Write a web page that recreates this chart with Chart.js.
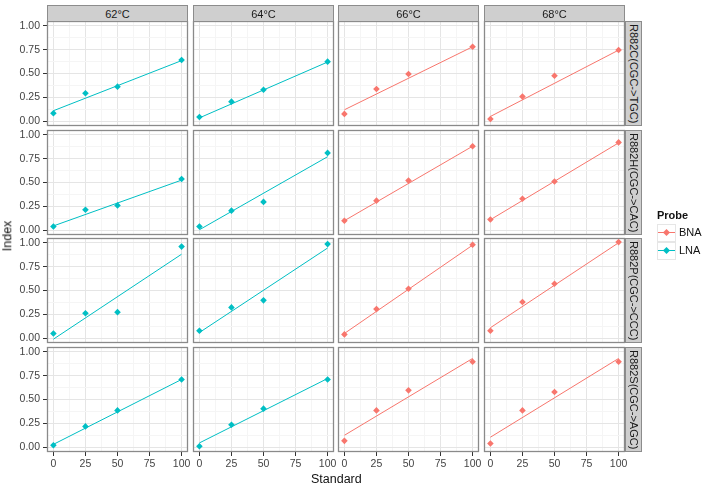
<!DOCTYPE html>
<html>
<head>
<meta charset="utf-8">
<script src="https://cdn.jsdelivr.net/npm/chart.js@4"></script>
<style>
  body { margin: 0; background: #fff; font-family: "Liberation Sans", Arial, sans-serif; }
  #wrap { position: relative; width: 706px; height: 489px; overflow: hidden; }
  canvas { position: absolute; }
  .strip { position: absolute; box-sizing: border-box; background: #cfcfcf; border: 1px solid #8c8c8c;
           font-size: 11px; color: #1a1a1a; display: flex; align-items: center; justify-content: center; }
  .strip.v { writing-mode: vertical-rl; }
  .title { position: absolute; font-size: 12.5px; color: #111; font-weight: normal; }
  #legend { position: absolute; left: 657px; top: 209px; font-size: 11px; color: #111; }
  #legend .head { font-weight: bold; margin-bottom: 3px; }
  #legend .key { position: relative; height: 18px; }
  #legend .box { position: absolute; left: 0; top: 0; width: 19px; height: 18px; box-sizing: border-box; border: 1px solid #e6e6e6; }
  #legend .ln { position: absolute; left: 1px; top: 8px; width: 17px; height: 1px; }
  #legend .pt { position: absolute; left: 7px; top: 6px; width: 5px; height: 5px; transform: rotate(45deg); }
  #legend .lab { position: absolute; left: 22px; top: 2px; }
</style>
</head>
<body>
<div id="wrap"></div>
<script>
const standards = [0, 25, 50, 100];
const temps = ['62°C', '64°C', '66°C', '68°C'];
const mutations = ['R882C(CGC->TGC)', 'R882H(CGC->CAC)', 'R882P(CGC->CCC)', 'R882S(CGC->AGC)'];
const probeByTemp = ['LNA', 'LNA', 'BNA', 'BNA'];
const xTickLabels = ['0', '25', '50', '75', '100'];
const yTickLabels = ['0.00', '0.25', '0.50', '0.75', '1.00'];

// index values at each standard, one row per temperature
const r882c = [[0.084, 0.293, 0.362, 0.641], [0.045, 0.205, 0.33, 0.624], [0.077, 0.338, 0.495, 0.78], [0.024, 0.258, 0.477, 0.746]];
const r882h = [[0.039, 0.215, 0.26, 0.537], [0.039, 0.205, 0.297, 0.81], [0.10, 0.31, 0.52, 0.88], [0.113, 0.33, 0.51, 0.92]];
const r882p = [[0.05, 0.262, 0.273, 0.96], [0.078, 0.323, 0.397, 0.986], [0.04, 0.305, 0.518, 0.979], [0.078, 0.379, 0.57, 1.007]];
const r882s = [[0.021, 0.218, 0.386, 0.709], [0.011, 0.235, 0.404, 0.709], [0.067, 0.386, 0.596, 0.895], [0.039, 0.386, 0.579, 0.895]];

// fitted line at standard 0 and 100
const fitC = [[0.11, 0.635], [0.035, 0.62], [0.12, 0.78], [0.05, 0.745]];
const fitH = [[0.045, 0.525], [0.005, 0.77], [0.10, 0.88], [0.11, 0.915]];
const fitP = [[-0.01, 0.88], [0.06, 0.945], [0.05, 0.975], [0.11, 1.0]];
const fitS = [[0.03, 0.71], [0.045, 0.72], [0.125, 0.93], [0.105, 0.93]];

const values = [r882c, r882h, r882p, r882s];
const fits = [fitC, fitH, fitP, fitS];
const probeColors = { BNA: '#F8766D', LNA: '#00BFC4' };

const wrap = document.getElementById('wrap');
const PW = 141, PH = 105, LEFT_AX = 47, BOTTOM_AX = 22, M = 12;
const colLeft = i => Math.round(47 + i * 145.5);
const rowTop = j => Math.round(21 + j * 108.7);

const panelFrame = {
  id: 'panelFrame',
  beforeDraw(chart) {
    const a = chart.chartArea, c = chart.ctx;
    c.save(); c.fillStyle = '#fff'; c.fillRect(a.left, a.top, a.right - a.left, a.bottom - a.top); c.restore();
  },
  afterDraw(chart) {
    const a = chart.chartArea, c = chart.ctx;
    c.save(); c.strokeStyle = '#8a8a8a'; c.lineWidth = 1.3;
    c.strokeRect(a.left + 0.5, a.top + 0.5, a.right - a.left - 1, a.bottom - a.top - 1); c.restore();
  }
};

const xMajor = xTickLabels.map(Number);
const yMajor = yTickLabels.map(Number);
const withMinor = (major) => {
  const out = [];
  major.forEach((v, k) => { out.push(v); if (k < major.length - 1) out.push((v + major[k + 1]) / 2); });
  return out;
};
const noPad = s => { s.paddingTop = 0; s.paddingBottom = 0; s.paddingLeft = 0; s.paddingRight = 0; };

for (let j = 0; j < 4; j++) {
  for (let i = 0; i < 4; i++) {
    const isLeft = i === 0, isBottom = j === 3;
    const padL = isLeft ? LEFT_AX : M, padB = isBottom ? BOTTOM_AX : M;
    const cv = document.createElement('canvas');
    cv.width = PW + padL + M; cv.height = PH + M + padB;
    cv.style.left = (colLeft(i) - padL) + 'px';
    cv.style.top = (rowTop(j) - M) + 'px';
    wrap.appendChild(cv);

    const color = probeColors[probeByTemp[i]];
    const pts = standards.map((s, k) => ({ x: s, y: values[j][i][k] }));
    const fit = [{ x: 0, y: fits[j][i][0] }, { x: 100, y: fits[j][i][1] }];

    new Chart(cv, {
      type: 'scatter',
      data: {
        datasets: [
          { data: fit, showLine: true, borderColor: color, borderWidth: 1, pointRadius: 0, order: 2 },
          { data: pts, backgroundColor: color, borderColor: color, pointStyle: 'rectRot', pointRadius: 3.3, borderWidth: 0, order: 1 }
        ]
      },
      options: {
        responsive: false, animation: false, events: [],
        layout: { padding: { left: isLeft ? 0 : M, right: M, top: M, bottom: isBottom ? 0 : M }, autoPadding: false },
        plugins: { legend: { display: false }, tooltip: { enabled: false } },
        scales: {
          x: {
            type: 'linear', min: -5, max: 105,
            afterBuildTicks: s => { s.ticks = withMinor(xMajor).map(v => ({ value: v })); },
            afterFit: s => { s.height = isBottom ? BOTTOM_AX : 0; noPad(s); },
            border: { display: false },
            grid: {
              color: c => (xMajor.includes(c.tick.value) ? '#e5e5e5' : '#f5f5f5'),
              drawTicks: isBottom, tickLength: 4,
              tickColor: c => (xMajor.includes(c.tick.value) ? '#333' : 'rgba(0,0,0,0)')
            },
            ticks: {
              display: isBottom, autoSkip: false, maxRotation: 0, padding: 2,
              color: '#444', font: { family: 'Liberation Sans', size: 10.5 },
              callback: v => { const k = xMajor.indexOf(v); return k >= 0 ? xTickLabels[k] : ''; }
            }
          },
          y: {
            type: 'linear', min: -0.05, max: 1.05,
            afterBuildTicks: s => { s.ticks = withMinor(yMajor).map(v => ({ value: v })); },
            afterFit: s => { s.width = isLeft ? LEFT_AX : 0; noPad(s); },
            border: { display: false },
            grid: {
              color: c => (yMajor.includes(c.tick.value) ? '#e5e5e5' : '#f5f5f5'),
              drawTicks: isLeft, tickLength: 4,
              tickColor: c => (yMajor.includes(c.tick.value) ? '#333' : 'rgba(0,0,0,0)')
            },
            ticks: {
              display: isLeft, autoSkip: false, padding: 3,
              color: '#444', font: { family: 'Liberation Sans', size: 10.5 },
              callback: v => { const k = yMajor.indexOf(v); return k >= 0 ? yTickLabels[k] : ''; }
            }
          }
        }
      },
      plugins: [panelFrame]
    });
  }
}

temps.forEach((t, i) => {
  const d = document.createElement('div');
  d.className = 'strip'; d.textContent = t;
  Object.assign(d.style, { left: colLeft(i) + 'px', top: '5px', width: PW + 'px', height: '17px' });
  wrap.appendChild(d);
});
mutations.forEach((m, j) => {
  const d = document.createElement('div');
  d.className = 'strip v'; d.textContent = m;
  Object.assign(d.style, { left: (colLeft(3) + PW) + 'px', top: rowTop(j) + 'px', width: '17px', height: PH + 'px' });
  wrap.appendChild(d);
});

const xt = document.createElement('div');
xt.className = 'title'; xt.textContent = 'Standard';
Object.assign(xt.style, { left: '311px', top: '472px' });
wrap.appendChild(xt);
const yt = document.createElement('div');
yt.className = 'title'; yt.textContent = 'Index';
Object.assign(yt.style, { left: '-8px', top: '229px', transform: 'rotate(-90deg)' });
wrap.appendChild(yt);

const lg = document.createElement('div');
lg.id = 'legend';
lg.innerHTML = '<div class="head">Probe</div>' + Object.keys(probeColors).map(p =>
  '<div class="key"><div class="box"></div><div class="ln" style="background:' + probeColors[p] + '"></div>' +
  '<div class="pt" style="background:' + probeColors[p] + '"></div><div class="lab">' + p + '</div></div>').join('');
wrap.appendChild(lg);
</script>
</body>
</html>
